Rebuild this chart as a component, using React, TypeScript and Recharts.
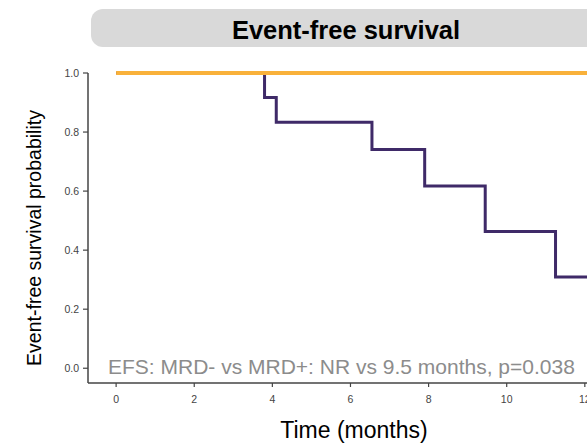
import React from "react";
import { LineChart, Line, XAxis, YAxis } from "recharts";

const mrdPosTimes = [0, 3.8, 4.1, 6.55, 7.9, 9.45, 11.25, 12.6];
const mrdPosSurv = [1.0, 0.917, 0.833, 0.741, 0.617, 0.463, 0.309, 0.309];
const mrdNegTimes = [0, 13.5];
const mrdNegSurv = [1.0, 1.0];
const xTicks = [0, 2, 4, 6, 8, 10, 12, 14];
const yTicks = [0, 0.2, 0.4, 0.6, 0.8, 1.0];

const titleText = "Event-free survival";
const yLabel = "Event-free survival probability";
const xLabel = "Time (months)";
const note = "EFS: MRD- vs MRD+: NR vs 9.5 months, p=0.038";

const posData = mrdPosTimes.map((t, i) => ({ t, s: mrdPosSurv[i] }));
const negData = mrdNegTimes.map((t, i) => ({ t, s: mrdNegSurv[i] }));

const FONT = "'Liberation Sans', Arial, Helvetica, sans-serif";

export default function App() {
  return (
    <div
      style={{
        position: "absolute",
        left: 0,
        top: 0,
        width: 587,
        height: 443,
        overflow: "hidden",
        background: "#ffffff",
        fontFamily: FONT,
      }}
    >
      <svg
        width={587}
        height={443}
        style={{ position: "absolute", left: 0, top: 0 }}
      >
        <rect x={91} y={9} width={600} height={38} rx={12} ry={12} fill="#d9d9d9" />
        <text
          x={346}
          y={38.5}
          textAnchor="middle"
          fontFamily={FONT}
          fontWeight="bold"
          fontSize={25.5}
          fill="#000"
        >
          {titleText}
        </text>
      </svg>
      <div style={{ position: "absolute", left: 0, top: 0 }}>
        <LineChart
          width={702}
          height={443}
          margin={{ top: 73, right: 0, bottom: 0, left: 0 }}
        >
          <XAxis
            dataKey="t"
            type="number"
            domain={[-0.72, 15]}
            ticks={xTicks}
            height={60}
            tickSize={4}
            tickMargin={9}
            axisLine={{ stroke: "#444", strokeWidth: 1.5 }}
            tickLine={{ stroke: "#444", strokeWidth: 1.2 }}
            tick={{ fill: "#444", fontSize: 10.5, fontFamily: FONT }}
          />
          <YAxis
            type="number"
            domain={[-0.05, 1.0]}
            ticks={yTicks}
            width={88}
            tickSize={5}
            tickMargin={4}
            tickFormatter={(v: number) => v.toFixed(1)}
            axisLine={{ stroke: "#444", strokeWidth: 1.5 }}
            tickLine={{ stroke: "#444", strokeWidth: 1.2 }}
            tick={{ fill: "#444", fontSize: 10.5, fontFamily: FONT }}
          />
          <Line
            data={posData}
            dataKey="s"
            type="stepAfter"
            stroke="#3f2a68"
            strokeWidth={3}
            dot={false}
            activeDot={false}
            isAnimationActive={false}
          />
          <Line
            data={negData}
            dataKey="s"
            type="stepAfter"
            stroke="#f9b13a"
            strokeWidth={4}
            dot={false}
            activeDot={false}
            isAnimationActive={false}
          />
        </LineChart>
      </div>
      <svg
        width={587}
        height={443}
        style={{ position: "absolute", left: 0, top: 0, pointerEvents: "none" }}
      >
        <text
          x={108}
          y={373.5}
          fontFamily={FONT}
          fontSize={21}
          fill="#8c8c8c"
        >
          {note}
        </text>
        <text
          transform="translate(40.5,238) rotate(-90)"
          textAnchor="middle"
          fontFamily={FONT}
          fontSize={19.5}
          fill="#000"
        >
          {yLabel}
        </text>
        <text
          x={354}
          y={438}
          textAnchor="middle"
          fontFamily={FONT}
          fontSize={23}
          fill="#000"
        >
          {xLabel}
        </text>
      </svg>
    </div>
  );
}
